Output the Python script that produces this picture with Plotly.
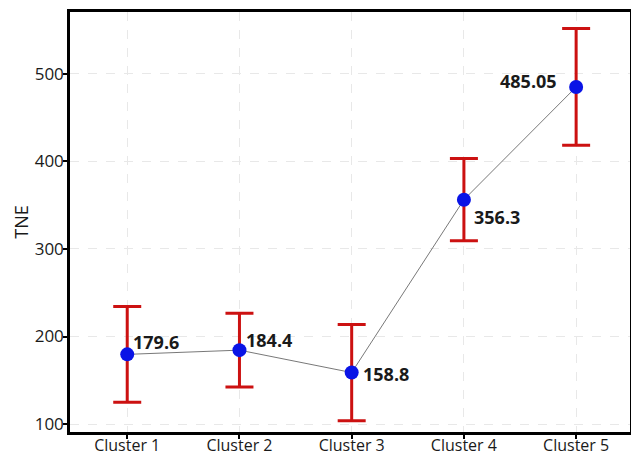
import plotly.graph_objects as go

categories = ["Cluster 1", "Cluster 2", "Cluster 3", "Cluster 4", "Cluster 5"]
means = [179.6, 184.4, 158.8, 356.3, 485.05]
ci_half = [54.6, 42.2, 55.0, 47.0, 66.7]
labels = ["179.6", "184.4", "158.8", "356.3", "485.05"]
y_ticks = [100, 200, 300, 400, 500]

xs = list(range(len(categories)))

fig = go.Figure()
fig.add_trace(go.Scatter(
    x=xs, y=means, mode="lines",
    line=dict(color="#555555", width=0.8),
    hoverinfo="skip", showlegend=False,
))
fig.add_trace(go.Scatter(
    x=xs, y=means, mode="markers",
    marker=dict(color="#0a14e6", size=14, line=dict(width=0)),
    error_y=dict(type="data", array=ci_half, visible=True,
                 color="#cc1111", thickness=3, width=14),
    showlegend=False,
))

# label placement (anchor, shifts)
place = [
    ("left", "middle", 4, 12),
    ("left", "middle", 5, 10),
    ("left", "middle", 9, -1),
    ("left", "middle", 8, -17),
    ("right", "middle", -17, 6),
]
for i, (xa, ya, dx, dy) in enumerate(place):
    fig.add_annotation(
        x=xs[i], y=means[i], text="<b>%s</b>" % labels[i],
        showarrow=False, xanchor=xa, yanchor=ya, xshift=dx, yshift=dy,
        font=dict(size=18, color="#1a1a1a", family="Open Sans"),
    )

fig.update_layout(
    width=631, height=455,
    margin=dict(l=70, r=1, t=12, b=23),
    plot_bgcolor="white", paper_bgcolor="white",
    font=dict(family="Open Sans", size=16, color="#1a1a1a"),
)
fig.update_xaxes(
    range=[-0.51, 4.48], tickmode="array", tickvals=xs, ticktext=categories,
    showgrid=True, gridcolor="#e8e8e8", griddash="dash", gridwidth=1,
    showline=True, linecolor="black", linewidth=2.5, mirror=True,
    ticks="outside", ticklen=4, tickcolor="black", tickwidth=1.5,
    zeroline=False, tickfont=dict(size=16), automargin=False,
    ticklabelstandoff=-7,
)
fig.update_yaxes(
    range=[90.9, 570.7], tickvals=y_ticks,
    showgrid=True, gridcolor="#e8e8e8", griddash="dash", gridwidth=1,
    showline=True, linecolor="black", linewidth=2.5, mirror=True,
    ticks="outside", ticklen=4, tickcolor="black", tickwidth=1.5,
    zeroline=False, tickfont=dict(size=17), automargin=False,
    ticklabelstandoff=-4,
    title=dict(text="TNE", font=dict(size=18), standoff=2),
)

fig.write_html("out.html")
